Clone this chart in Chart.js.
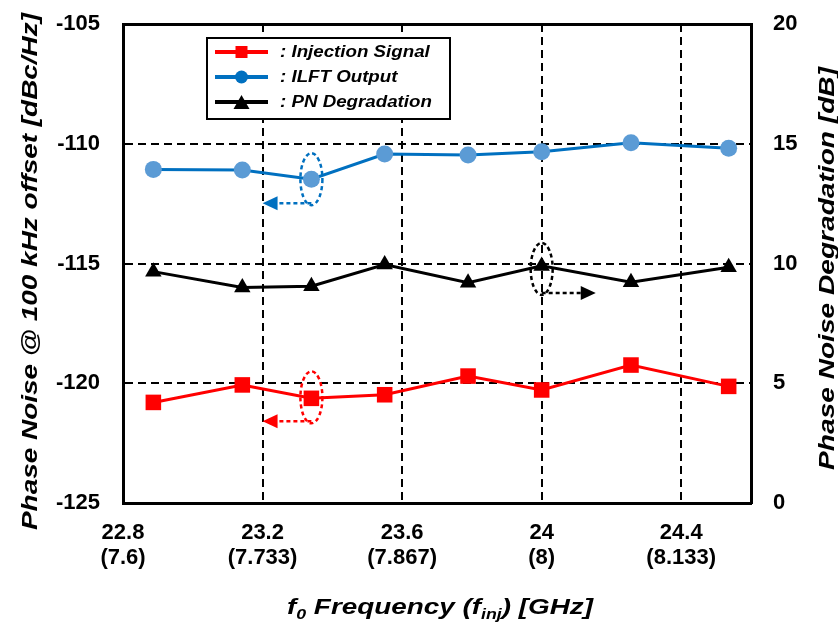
<!DOCTYPE html>
<html>
<head>
<meta charset="utf-8">
<title>Phase noise vs. frequency</title>
<script src="https://cdn.jsdelivr.net/npm/chart.js@4.4.1/dist/chart.umd.min.js"></script>
<style>
  html, body { margin: 0; padding: 0; background: #ffffff; }
  canvas { display: block; }
</style>
</head>
<body>
<canvas id="chart" width="838" height="626"></canvas>
<script>
// Output frequency f0 of each measurement [GHz]
const freqGHz = [22.887, 23.142, 23.340, 23.550, 23.789, 24.000, 24.256, 24.536];
// Phase noise @ 100 kHz offset [dBc/Hz]
const injectionSignal = [-120.80, -120.07, -120.63, -120.48, -119.70, -120.28, -119.24, -120.13];
const ilftOutput      = [-111.07, -111.10, -111.48, -110.43, -110.47, -110.33, -109.96, -110.19];
// Phase noise degradation [dB]
const pnDegradation   = [9.66, 9.00, 9.05, 9.96, 9.20, 9.90, 9.22, 9.84];

// Axis ticks
const xTickValues   = [22.8, 23.2, 23.6, 24.0, 24.4];
const xTickLabels   = ['22.8', '23.2', '23.6', '24', '24.4'];
const injTickLabels = ['(7.6)', '(7.733)', '(7.867)', '(8)', '(8.133)'];
const leftTicks     = [-125, -120, -115, -110, -105];
const rightTicks    = [0, 5, 10, 15, 20];

const seriesNames = ['Injection Signal', 'ILFT Output', 'PN Degradation'];

const FONT = "'Liberation Sans', Arial, Helvetica, sans-serif";
const RED = '#FF0000', BLUE = '#0070C0', BLUE_MARK = '#5B9BD5', BLACK = '#000000';
const GRID_DASH = [8, 5];

function pts(values) {
  return values.map((v, i) => ({ x: freqGHz[i], y: v }));
}
function edgeTransparent(edges) {
  return ctx => (ctx.tick && edges.includes(ctx.tick.value)) ? 'rgba(0,0,0,0)' : BLACK;
}
// fixed axis thickness; tick labels may overhang the plot edges freely
function fixedSize(prop, size) {
  return s => {
    s[prop] = size;
    s.paddingTop = s.paddingBottom = s.paddingLeft = s.paddingRight = 0;
  };
}

// Text drawn with a horizontal stretch so it fills a given length
function drawFitted(ctx, text, x, y, length, font) {
  ctx.save();
  ctx.font = font;
  const w = ctx.measureText(text).width;
  ctx.translate(x, y);
  ctx.scale(length / w, 1);
  ctx.fillText(text, 0, 0);
  ctx.restore();
}

// Dashed call-outs pointing each curve to its axis
const callouts = [
  { series: ilftOutput,      axis: 'y',  idx: 2, color: BLUE,  tip: 23.2,  dy: 0 },
  { series: injectionSignal, axis: 'y',  idx: 2, color: RED,   tip: 23.2,  dy: -1 },
  { series: pnDegradation,   axis: 'y2', idx: 5, color: BLACK, tip: 24.155, dy: 3 }
];

function drawMarker(ctx, style, cx, cy, size, color) {
  ctx.fillStyle = color;
  ctx.beginPath();
  if (style === 'rect') {
    ctx.rect(cx - size / 2, cy - size / 2, size, size);
  } else if (style === 'circle') {
    ctx.arc(cx, cy, size / 2, 0, Math.PI * 2);
  } else {
    const h = size * 0.87;
    ctx.moveTo(cx, cy - h / 2);
    ctx.lineTo(cx + size / 2, cy + h / 2);
    ctx.lineTo(cx - size / 2, cy + h / 2);
    ctx.closePath();
  }
  ctx.fill();
}

const decorPlugin = {
  id: 'decor',
  afterDatasetsDraw(chart) {
    const { ctx, scales } = chart;
    const xs = scales.x;
    ctx.save();
    callouts.forEach(c => {
      const cx = xs.getPixelForValue(freqGHz[c.idx]);
      const cy = scales[c.axis].getPixelForValue(c.series[c.idx]) + c.dy;
      ctx.strokeStyle = c.color;
      ctx.lineWidth = 2.5;
      ctx.setLineDash([4, 3]);
      ctx.beginPath();
      ctx.ellipse(cx, cy, 11, 26, 0, 0, Math.PI * 2);
      ctx.stroke();
      const ay = cy + 24;
      const tipX = xs.getPixelForValue(c.tip);
      const dir = Math.sign(tipX - cx);
      ctx.beginPath();
      ctx.moveTo(cx, ay);
      ctx.lineTo(tipX - dir * 12, ay);
      ctx.stroke();
      ctx.setLineDash([]);
      ctx.fillStyle = c.color;
      ctx.beginPath();
      ctx.moveTo(tipX, ay);
      ctx.lineTo(tipX - dir * 15, ay - 7);
      ctx.lineTo(tipX - dir * 15, ay + 7);
      ctx.closePath();
      ctx.fill();
    });
    ctx.restore();
  },
  afterDraw(chart) {
    const { ctx, chartArea: a } = chart;
    ctx.save();

    // Legend box
    const lg = { x: a.left + 84, y: a.top + 14, w: 243, h: 81 };
    ctx.fillStyle = '#ffffff';
    ctx.fillRect(lg.x, lg.y, lg.w, lg.h);
    ctx.strokeStyle = BLACK;
    ctx.lineWidth = 2;
    ctx.setLineDash([]);
    ctx.strokeRect(lg.x, lg.y, lg.w, lg.h);
    const entries = [
      { color: RED, mark: RED, style: 'rect', size: 12 },
      { color: BLUE, mark: BLUE, style: 'circle', size: 13 },
      { color: BLACK, mark: BLACK, style: 'triangle', size: 16 }
    ];
    entries.forEach((e, i) => {
      const ry = lg.y + 14 + i * 25;
      ctx.strokeStyle = e.color;
      ctx.lineWidth = 4;
      ctx.beginPath();
      ctx.moveTo(lg.x + 8, ry);
      ctx.lineTo(lg.x + 61, ry);
      ctx.stroke();
      drawMarker(ctx, e.style, lg.x + 34.5, ry, e.size, e.mark);
      ctx.fillStyle = BLACK;
      ctx.textBaseline = 'middle';
      ctx.textAlign = 'left';
      const font = 'italic bold 16px ' + FONT;
      ctx.font = font;
      const label = ': ' + seriesNames[i];
      const w = ctx.measureText(label).width;
      drawFitted(ctx, label, lg.x + 73, ry + 1, w * 1.17, font);
    });

    // Axis titles
    ctx.fillStyle = BLACK;
    ctx.textBaseline = 'alphabetic';
    ctx.textAlign = 'center';
    const titleFont = 'italic bold 22px ' + FONT;

    ctx.save();
    ctx.translate(37, 271.5);
    ctx.rotate(-Math.PI / 2);
    drawFitted(ctx, 'Phase Noise @ 100 kHz offset [dBc/Hz]', 0, 0, 517, titleFont);
    ctx.restore();

    ctx.save();
    ctx.translate(834, 268.5);
    ctx.rotate(-Math.PI / 2);
    drawFitted(ctx, 'Phase Noise Degradation [dB]', 0, 0, 403, titleFont);
    ctx.restore();

    // x title with subscripts
    const subFont = 'italic bold 14px ' + FONT;
    const parts = [
      ['f', titleFont, 0], ['0', subFont, 5], [' Frequency (f', titleFont, 0],
      ['inj', subFont, 5], [') [GHz]', titleFont, 0]
    ];
    let total = 0;
    parts.forEach(p => { ctx.font = p[1]; total += ctx.measureText(p[0]).width; });
    const targetLen = 306, sx = targetLen / total;
    ctx.save();
    ctx.translate(440 - targetLen / 2, 614);
    ctx.scale(sx, 1);
    ctx.textAlign = 'left';
    let px = 0;
    parts.forEach(p => {
      ctx.font = p[1];
      ctx.fillText(p[0], px, p[2]);
      px += ctx.measureText(p[0]).width;
    });
    ctx.restore();

    ctx.restore();
  }
};

const tickFont = { family: FONT, size: 22, weight: 'bold', lineHeight: 1.15 };

new Chart(document.getElementById('chart'), {
  type: 'line',
  data: {
    datasets: [
      {
        label: seriesNames[0], data: pts(injectionSignal), yAxisID: 'y',
        borderColor: RED, backgroundColor: RED, borderWidth: 3,
        pointStyle: 'rect', pointRadius: 11, pointBackgroundColor: RED,
        pointBorderColor: RED, pointBorderWidth: 0, tension: 0
      },
      {
        label: seriesNames[1], data: pts(ilftOutput), yAxisID: 'y',
        borderColor: BLUE, backgroundColor: BLUE_MARK, borderWidth: 3,
        pointStyle: 'circle', pointRadius: 8.5, pointBackgroundColor: BLUE_MARK,
        pointBorderColor: BLUE_MARK, pointBorderWidth: 0, tension: 0
      },
      {
        label: seriesNames[2], data: pts(pnDegradation), yAxisID: 'y2',
        borderColor: BLACK, backgroundColor: BLACK, borderWidth: 3,
        pointStyle: 'triangle', pointRadius: 9.5, pointBackgroundColor: BLACK,
        pointBorderColor: BLACK, pointBorderWidth: 0, tension: 0
      }
    ]
  },
  options: {
    responsive: false,
    animation: false,
    devicePixelRatio: 1,
    layout: { padding: { left: 0, right: 0, top: 0, bottom: 0 } },
    plugins: { legend: { display: false }, tooltip: { enabled: false } },
    scales: {
      x: {
        type: 'linear', position: 'bottom', min: 22.8, max: 24.6,
        afterBuildTicks: s => { s.ticks = xTickValues.map(v => ({ value: v })); },
        afterFit: fixedSize('height', 123),
        ticks: {
          autoSkip: false, maxRotation: 0, minRotation: 0, padding: 17,
          color: BLACK, font: tickFont,
          callback: (v, i) => [xTickLabels[i], injTickLabels[i]]
        },
        grid: { color: edgeTransparent([22.8]), lineWidth: 2, drawTicks: false },
        border: { display: true, color: BLACK, width: 3, dash: GRID_DASH }
      },
      xTop: {
        type: 'linear', position: 'top', min: 22.8, max: 24.6,
        afterFit: fixedSize('height', 24),
        ticks: { display: false },
        grid: { display: false, drawTicks: false },
        border: { display: true, color: BLACK, width: 3 }
      },
      y: {
        type: 'linear', position: 'left', min: -125, max: -105,
        afterBuildTicks: s => { s.ticks = leftTicks.map(v => ({ value: v })); },
        afterFit: fixedSize('width', 123),
        ticks: { padding: 23, color: BLACK, font: tickFont, callback: v => String(v) },
        grid: { color: edgeTransparent([-125, -105]), lineWidth: 2, drawTicks: false },
        border: { display: true, color: BLACK, width: 3, dash: GRID_DASH }
      },
      y2: {
        type: 'linear', position: 'right', min: 0, max: 20,
        afterBuildTicks: s => { s.ticks = rightTicks.map(v => ({ value: v })); },
        afterFit: fixedSize('width', 87),
        ticks: { padding: 22, color: BLACK, font: tickFont, callback: v => String(v) },
        grid: { display: false, drawOnChartArea: false, drawTicks: false },
        border: { display: true, color: BLACK, width: 3 }
      }
    }
  },
  plugins: [decorPlugin]
});
</script>
</body>
</html>
